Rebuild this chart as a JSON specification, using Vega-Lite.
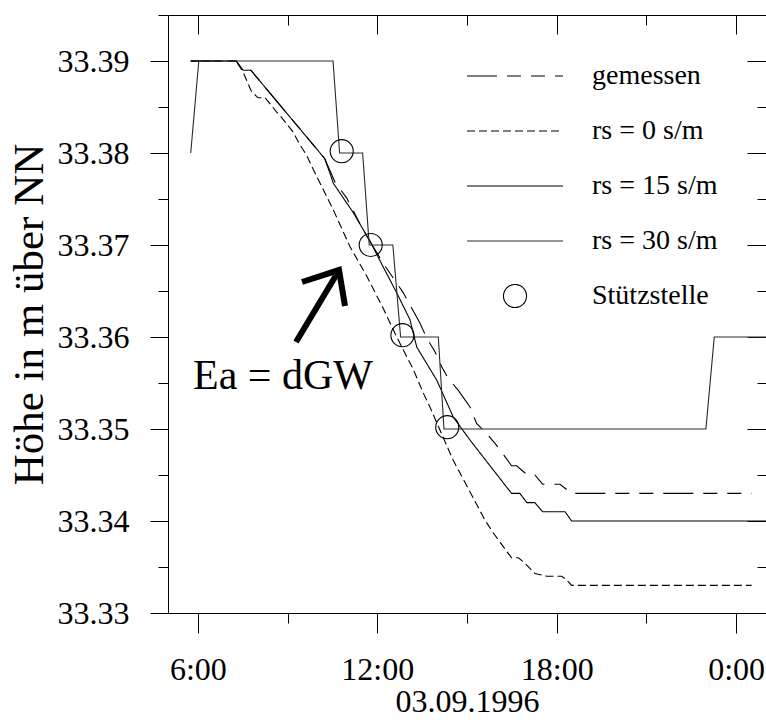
{
  "$schema": "https://vega.github.io/schema/vega-lite/v6.json",
  "width": 598,
  "height": 598,
  "autosize": {"type": "none"},
  "padding": {"left": 168, "top": 15, "right": 0, "bottom": 107},
  "background": "white",
  "config": {
    "font": "Liberation Serif",
    "view": {"stroke": null},
    "axis": {
      "labelFont": "Liberation Serif", "titleFont": "Liberation Serif",
      "labelColor": "black", "titleColor": "black", "domainColor": "black", "tickColor": "black",
      "grid": false, "labelFontSize": 32, "titleFontSize": 32, "titleFontWeight": "normal",
      "domainWidth": 1, "tickWidth": 1
    },
    "legend": {
      "orient": "none", "legendX": 330, "legendY": 44, "padding": 0,
      "labelFont": "Liberation Serif", "labelFontSize": 28, "labelColor": "black", "labelLimit": 400,
      "symbolType": "M-3,0H3", "symbolSize": 1024, "symbolStrokeWidth": 1.1,
      "symbolFillColor": "transparent", "rowPadding": 24, "labelOffset": 60
    }
  },
  "datasets": {
    "lines": [
      {"series": "gemessen", "t": 5.76, "v": 33.39},
      {"series": "gemessen", "t": 7.28, "v": 33.39},
      {"series": "gemessen", "t": 7.51, "v": 33.389},
      {"series": "gemessen", "t": 7.77, "v": 33.389},
      {"series": "gemessen", "t": 10.24, "v": 33.3794},
      {"series": "gemessen", "t": 10.59, "v": 33.3768},
      {"series": "gemessen", "t": 10.98, "v": 33.3751},
      {"series": "gemessen", "t": 11.53, "v": 33.3716},
      {"series": "gemessen", "t": 12.2, "v": 33.368},
      {"series": "gemessen", "t": 12.87, "v": 33.3648},
      {"series": "gemessen", "t": 13.43, "v": 33.3615},
      {"series": "gemessen", "t": 13.65, "v": 33.3599},
      {"series": "gemessen", "t": 13.93, "v": 33.3584},
      {"series": "gemessen", "t": 14.15, "v": 33.3568},
      {"series": "gemessen", "t": 14.37, "v": 33.3555},
      {"series": "gemessen", "t": 14.71, "v": 33.3542},
      {"series": "gemessen", "t": 15.1, "v": 33.3524},
      {"series": "gemessen", "t": 15.32, "v": 33.3506},
      {"series": "gemessen", "t": 15.66, "v": 33.3495},
      {"series": "gemessen", "t": 15.97, "v": 33.3483},
      {"series": "gemessen", "t": 16.27, "v": 33.347},
      {"series": "gemessen", "t": 16.49, "v": 33.346},
      {"series": "gemessen", "t": 16.66, "v": 33.346},
      {"series": "gemessen", "t": 17.02, "v": 33.345},
      {"series": "gemessen", "t": 17.27, "v": 33.345},
      {"series": "gemessen", "t": 17.53, "v": 33.344},
      {"series": "gemessen", "t": 18.11, "v": 33.344},
      {"series": "gemessen", "t": 18.5, "v": 33.343},
      {"series": "gemessen", "t": 24.52, "v": 33.343},
      {"series": "rs = 0 s/m", "t": 5.76, "v": 33.39},
      {"series": "rs = 0 s/m", "t": 7.28, "v": 33.39},
      {"series": "rs = 0 s/m", "t": 7.51, "v": 33.3888},
      {"series": "rs = 0 s/m", "t": 7.79, "v": 33.3867},
      {"series": "rs = 0 s/m", "t": 8.01, "v": 33.386},
      {"series": "rs = 0 s/m", "t": 8.25, "v": 33.386},
      {"series": "rs = 0 s/m", "t": 8.4, "v": 33.3854},
      {"series": "rs = 0 s/m", "t": 8.62, "v": 33.3845},
      {"series": "rs = 0 s/m", "t": 8.79, "v": 33.3839},
      {"series": "rs = 0 s/m", "t": 9.18, "v": 33.3823},
      {"series": "rs = 0 s/m", "t": 9.41, "v": 33.3809},
      {"series": "rs = 0 s/m", "t": 9.63, "v": 33.3798},
      {"series": "rs = 0 s/m", "t": 9.86, "v": 33.3782},
      {"series": "rs = 0 s/m", "t": 10.53, "v": 33.3738},
      {"series": "rs = 0 s/m", "t": 11.09, "v": 33.3698},
      {"series": "rs = 0 s/m", "t": 11.65, "v": 33.3666},
      {"series": "rs = 0 s/m", "t": 12.2, "v": 33.3631},
      {"series": "rs = 0 s/m", "t": 12.65, "v": 33.36},
      {"series": "rs = 0 s/m", "t": 13.2, "v": 33.3565},
      {"series": "rs = 0 s/m", "t": 13.54, "v": 33.3539},
      {"series": "rs = 0 s/m", "t": 13.76, "v": 33.3524},
      {"series": "rs = 0 s/m", "t": 14.04, "v": 33.3503},
      {"series": "rs = 0 s/m", "t": 14.43, "v": 33.3474},
      {"series": "rs = 0 s/m", "t": 14.54, "v": 33.3466},
      {"series": "rs = 0 s/m", "t": 15.16, "v": 33.3428},
      {"series": "rs = 0 s/m", "t": 15.6, "v": 33.3401},
      {"series": "rs = 0 s/m", "t": 15.88, "v": 33.3387},
      {"series": "rs = 0 s/m", "t": 16.33, "v": 33.3367},
      {"series": "rs = 0 s/m", "t": 16.49, "v": 33.336},
      {"series": "rs = 0 s/m", "t": 16.72, "v": 33.336},
      {"series": "rs = 0 s/m", "t": 16.94, "v": 33.3354},
      {"series": "rs = 0 s/m", "t": 17.27, "v": 33.3343},
      {"series": "rs = 0 s/m", "t": 17.67, "v": 33.334},
      {"series": "rs = 0 s/m", "t": 18.17, "v": 33.334},
      {"series": "rs = 0 s/m", "t": 18.33, "v": 33.3336},
      {"series": "rs = 0 s/m", "t": 18.5, "v": 33.333},
      {"series": "rs = 0 s/m", "t": 24.52, "v": 33.333},
      {"series": "rs = 15 s/m", "t": 5.76, "v": 33.39},
      {"series": "rs = 15 s/m", "t": 7.28, "v": 33.39},
      {"series": "rs = 15 s/m", "t": 7.51, "v": 33.389},
      {"series": "rs = 15 s/m", "t": 7.77, "v": 33.389},
      {"series": "rs = 15 s/m", "t": 10.24, "v": 33.3794},
      {"series": "rs = 15 s/m", "t": 10.46, "v": 33.3774},
      {"series": "rs = 15 s/m", "t": 10.53, "v": 33.3767},
      {"series": "rs = 15 s/m", "t": 11.2, "v": 33.3735},
      {"series": "rs = 15 s/m", "t": 11.76, "v": 33.3704},
      {"series": "rs = 15 s/m", "t": 12.2, "v": 33.3676},
      {"series": "rs = 15 s/m", "t": 12.65, "v": 33.3648},
      {"series": "rs = 15 s/m", "t": 13.09, "v": 33.3619},
      {"series": "rs = 15 s/m", "t": 13.32, "v": 33.3589},
      {"series": "rs = 15 s/m", "t": 13.99, "v": 33.3553},
      {"series": "rs = 15 s/m", "t": 14.54, "v": 33.3513},
      {"series": "rs = 15 s/m", "t": 15.1, "v": 33.3488},
      {"series": "rs = 15 s/m", "t": 16.49, "v": 33.343},
      {"series": "rs = 15 s/m", "t": 16.77, "v": 33.343},
      {"series": "rs = 15 s/m", "t": 17.0, "v": 33.342},
      {"series": "rs = 15 s/m", "t": 17.27, "v": 33.342},
      {"series": "rs = 15 s/m", "t": 17.53, "v": 33.341},
      {"series": "rs = 15 s/m", "t": 18.28, "v": 33.341},
      {"series": "rs = 15 s/m", "t": 18.5, "v": 33.34},
      {"series": "rs = 15 s/m", "t": 25, "v": 33.34},
      {"series": "rs = 30 s/m", "t": 5.76, "v": 33.38},
      {"series": "rs = 30 s/m", "t": 6.03, "v": 33.39},
      {"series": "rs = 30 s/m", "t": 10.52, "v": 33.39},
      {"series": "rs = 30 s/m", "t": 10.74, "v": 33.38},
      {"series": "rs = 30 s/m", "t": 11.51, "v": 33.38},
      {"series": "rs = 30 s/m", "t": 11.73, "v": 33.37},
      {"series": "rs = 30 s/m", "t": 12.52, "v": 33.37},
      {"series": "rs = 30 s/m", "t": 12.78, "v": 33.36},
      {"series": "rs = 30 s/m", "t": 14.04, "v": 33.36},
      {"series": "rs = 30 s/m", "t": 14.23, "v": 33.35},
      {"series": "rs = 30 s/m", "t": 22.99, "v": 33.35},
      {"series": "rs = 30 s/m", "t": 23.27, "v": 33.36},
      {"series": "rs = 30 s/m", "t": 25, "v": 33.36}
    ],
    "points": [
      {"series": "Stützstelle", "t": 10.81, "v": 33.3802},
      {"series": "Stützstelle", "t": 11.78, "v": 33.37},
      {"series": "Stützstelle", "t": 12.84, "v": 33.3602},
      {"series": "Stützstelle", "t": 14.34, "v": 33.3502}
    ],
    "arrow": [
      {"part": "shaft", "k": 1, "t": 9.281, "v": 33.35946},
      {"part": "shaft", "k": 2, "t": 10.686, "v": 33.36707},
      {"part": "head", "k": 1, "t": 9.482, "v": 33.36598},
      {"part": "head", "k": 2, "t": 10.719, "v": 33.36728},
      {"part": "head", "k": 3, "t": 10.92, "v": 33.36337}
    ],
    "notes": [
      {"t": 5.836, "v": 33.35435, "label": "Ea = dGW"}
    ]
  },
  "layer": [
    {
      "data": {"name": "lines"},
      "mark": {"type": "line", "strokeWidth": 1.1},
      "encoding": {
        "x": {
          "field": "t", "type": "quantitative",
          "scale": {"domain": [5, 25], "nice": false, "zero": false},
          "axis": {
            "orient": "bottom", "values": [6, 9, 12, 15, 18, 21, 24],
            "labelExpr": "datum.value % 6 === 0 ? (datum.value % 24) + ':00' : ''",
            "tickSize": {"condition": {"test": "datum.value % 6 === 0", "value": 20}, "value": 10},
            "labelPadding": 21, "labelFlush": false, "labelOverlap": false, "labelBound": false,
            "title": "03.09.1996", "titlePadding": 1
          }
        },
        "y": {
          "field": "v", "type": "quantitative",
          "scale": {"domain": [33.33, 33.395], "nice": false, "zero": false},
          "axis": {
            "orient": "left",
            "values": [33.33, 33.335, 33.34, 33.345, 33.35, 33.355, 33.36, 33.365, 33.37, 33.375, 33.38, 33.385, 33.39, 33.395],
            "labelExpr": "round(datum.value * 1000) % 10 === 0 ? format(datum.value, '.2f') : ''",
            "tickSize": {"condition": {"test": "round(datum.value * 1000) % 10 === 0", "value": 18}, "value": 10},
            "labelPadding": 21, "labelOverlap": false, "labelFlush": false, "labelBound": false,
            "title": "Höhe in m über NN", "titleFontSize": 43, "titlePadding": 6
          }
        },
        "strokeDash": {
          "field": "series", "type": "nominal",
          "scale": {
            "domain": ["gemessen", "rs = 0 s/m", "rs = 15 s/m", "rs = 30 s/m", "Stützstelle"],
            "range": [[30, 10, 14, 10, 14, 10], [8, 4], [1, 0], [1, 0], [1, 0]]
          },
          "legend": {"title": null}
        },
        "color": {
          "field": "series", "type": "nominal",
          "scale": {
            "domain": ["gemessen", "rs = 0 s/m", "rs = 15 s/m", "rs = 30 s/m", "Stützstelle"],
            "range": ["black", "black", "black", "#2a2a2a", "black"]
          },
          "legend": {"title": null}
        }
      }
    },
    {
      "data": {"name": "points"},
      "mark": {"type": "point", "filled": false, "size": 1024, "strokeWidth": 1.1, "opacity": 1, "color": "black"},
      "encoding": {
        "x": {
          "field": "t", "type": "quantitative",
          "scale": {"domain": [5, 25], "nice": false, "zero": false},
          "axis": {
            "orient": "top", "values": [6, 9, 12, 15, 18, 21, 24], "labels": false, "title": null,
            "tickSize": {"condition": {"test": "datum.value % 6 === 0", "value": -19}, "value": -10}
          }
        },
        "y": {
          "field": "v", "type": "quantitative",
          "scale": {"domain": [33.33, 33.395], "nice": false, "zero": false},
          "axis": {
            "orient": "right", "labels": false, "title": null,
            "values": [33.33, 33.335, 33.34, 33.345, 33.35, 33.355, 33.36, 33.365, 33.37, 33.375, 33.38, 33.385, 33.39, 33.395],
            "tickSize": {"condition": {"test": "round(datum.value * 1000) % 10 === 0", "value": -19}, "value": -9}
          }
        },
        "shape": {
          "field": "series", "type": "nominal",
          "scale": {
            "domain": ["gemessen", "rs = 0 s/m", "rs = 15 s/m", "rs = 30 s/m", "Stützstelle"],
            "range": ["M-3,0H3", "M-3,0H3", "M-3,0H3", "M-3,0H3", "M-0.72,0A0.72,0.72 0 1,0 0.72,0A0.72,0.72 0 1,0 -0.72,0Z"]
          },
          "legend": {"title": null}
        }
      }
    },
    {
      "data": {"name": "arrow"},
      "mark": {"type": "line", "strokeWidth": 6, "color": "black", "strokeCap": "butt", "strokeJoin": "miter"},
      "encoding": {
        "x": {"field": "t", "type": "quantitative", "scale": {"domain": [5, 25], "nice": false, "zero": false}, "axis": null},
        "y": {"field": "v", "type": "quantitative", "scale": {"domain": [33.33, 33.395], "nice": false, "zero": false}, "axis": null},
        "detail": {"field": "part", "type": "nominal"},
        "order": {"field": "k", "type": "quantitative"}
      }
    },
    {
      "data": {"name": "notes"},
      "mark": {"type": "text", "align": "left", "baseline": "alphabetic", "fontSize": 42, "font": "Liberation Serif", "color": "black"},
      "encoding": {
        "x": {"field": "t", "type": "quantitative", "scale": {"domain": [5, 25], "nice": false, "zero": false}, "axis": null},
        "y": {"field": "v", "type": "quantitative", "scale": {"domain": [33.33, 33.395], "nice": false, "zero": false}, "axis": null},
        "text": {"field": "label", "type": "nominal"}
      }
    }
  ],
  "resolve": {"axis": {"x": "independent", "y": "independent"}}
}
